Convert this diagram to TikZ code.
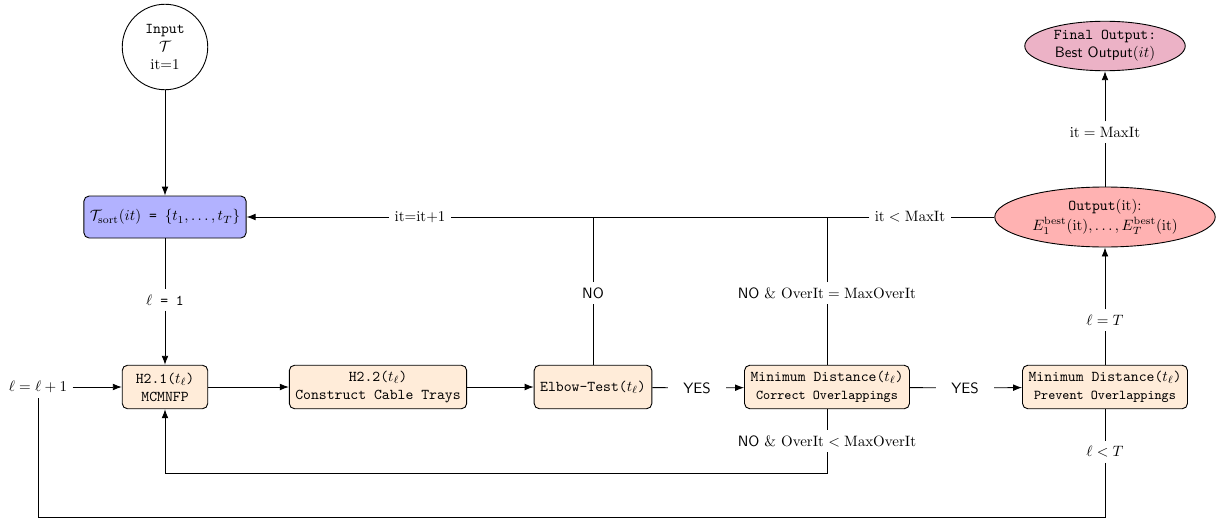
\documentclass[tikz,border=0pt]{standalone}
\usetikzlibrary{arrows.meta,shapes.geometric}
\begin{document}
\begin{tikzpicture}[x=0.6667pt,y=-0.6667pt, >={Latex[length=6pt,width=4.5pt]}, line width=0.6pt,
 proc/.style={draw, rounded corners=3.5pt, fill=orange!15, align=center, minimum height=29pt, inner xsep=4pt, font=\ttfamily},
 lab/.style={inner sep=3.3pt},
 yeslab/.style={inner xsep=10pt, font=\sffamily},
 ell/.style={ellipse, draw, inner sep=0pt, align=center}
]
\useasboundingbox (0,0) rectangle (1218,520);
% nodes
\node[draw, circle, minimum size=57pt, inner sep=0pt, align=center] (in) at (165,47) {\texttt{Input}\\$\mathcal{T}$\\it=1};
\node[proc, fill=blue!30, minimum width=107pt, minimum height=28pt] (ts) at (165,217) {$\mathcal{T}_{\mathrm{sort}}(it)$ = $\{t_1,\ldots,t_T\}$};
\node[proc, minimum width=57pt] (h21) at (165,387) {H2.1($t_\ell$)\\MCMNFP};
\node[proc] (h22) at (378,387) {H2.2($t_\ell$)\\Construct Cable Trays};
\node[proc] (elb) at (593,387) {Elbow-Test($t_\ell$)};
\node[proc] (mdc) at (827,387) {Minimum Distance($t_\ell$)\\{\small Correct Overlappings}};
\node[proc] (mdp) at (1105,387) {Minimum Distance($t_\ell$)\\{\small Prevent Overlappings}};
\node[ell, fill=red!30, minimum width=147pt, minimum height=40pt] (out) at (1105,217) {\texttt{Output}(it):\\[1pt]$E_1^{\mathrm{best}}(\mathrm{it}),\ldots,E_T^{\mathrm{best}}(\mathrm{it})$};
\node[ell, fill=purple!30, minimum width=107pt, minimum height=33pt] (fin) at (1105,46) {\texttt{Final Output:}\\\textsf{Best Output}$(it)$};
% labels
\node[lab] (l1) at (165,300) {\texttt{$\ell$ = 1}};
\node[lab] (lpl) at (38,387) {$\ell=\ell+1$};
\node[yeslab] (yes1) at (697,388) {YES};
\node[yeslab] (yes2) at (965,388) {YES};
\node[lab, font=\sffamily] (no1) at (593,293) {NO};
\node[lab] (noeq) at (827,293) {\textsf{NO} \& $\mathrm{OverIt}=\mathrm{MaxOverIt}$};
\node[lab] (nolt) at (827,441) {\textsf{NO} \& $\mathrm{OverIt}<\mathrm{MaxOverIt}$};
\node[lab] (lT) at (1105,320) {$\ell=T$};
\node[lab] (llt) at (1105,452) {$\ell<T$};
\node[lab] (itmax) at (1105,132) {$\mathrm{it}=\mathrm{MaxIt}$};
\node[lab] (itlt) at (910,217) {$\mathrm{it}<\mathrm{MaxIt}$};
\node[lab] (itinc) at (420,217) {it=it+1};
\coordinate (b1) at (1105,517);
\coordinate (b2) at (38,517);
\coordinate (c3) at (827,473);
% connectors
\draw[->] (in) -- (ts);
\draw (ts) -- (l1);
\draw[->] (l1) -- (h21);
\draw[->] (lpl) -- (h21);
\draw[->] (h21) -- (h22);
\draw[->] (h22) -- (elb);
\draw (elb) -- (yes1);
\draw[->] (yes1) -- (mdc);
\draw (mdc) -- (yes2);
\draw[->] (yes2) -- (mdp);
\draw (elb) -- (no1);
\draw (no1) -- (no1 |- itinc);
\draw (mdc) -- (noeq);
\draw (noeq) -- (noeq |- itinc);
\draw (mdc) -- (nolt);
\draw[->] (nolt) -- (c3) -- (h21 |- c3) -- (h21);
\draw (mdp) -- (lT);
\draw[->] (lT) -- (out);
\draw (out) -- (itmax);
\draw[->] (itmax) -- (fin);
\draw (out) -- (itlt);
\draw (itlt) -- (itinc);
\draw[->] (itinc) -- (ts);
\draw (mdp) -- (llt);
\draw (llt) -- (b1) -- (b2) -- (lpl);
\end{tikzpicture}
\end{document}
